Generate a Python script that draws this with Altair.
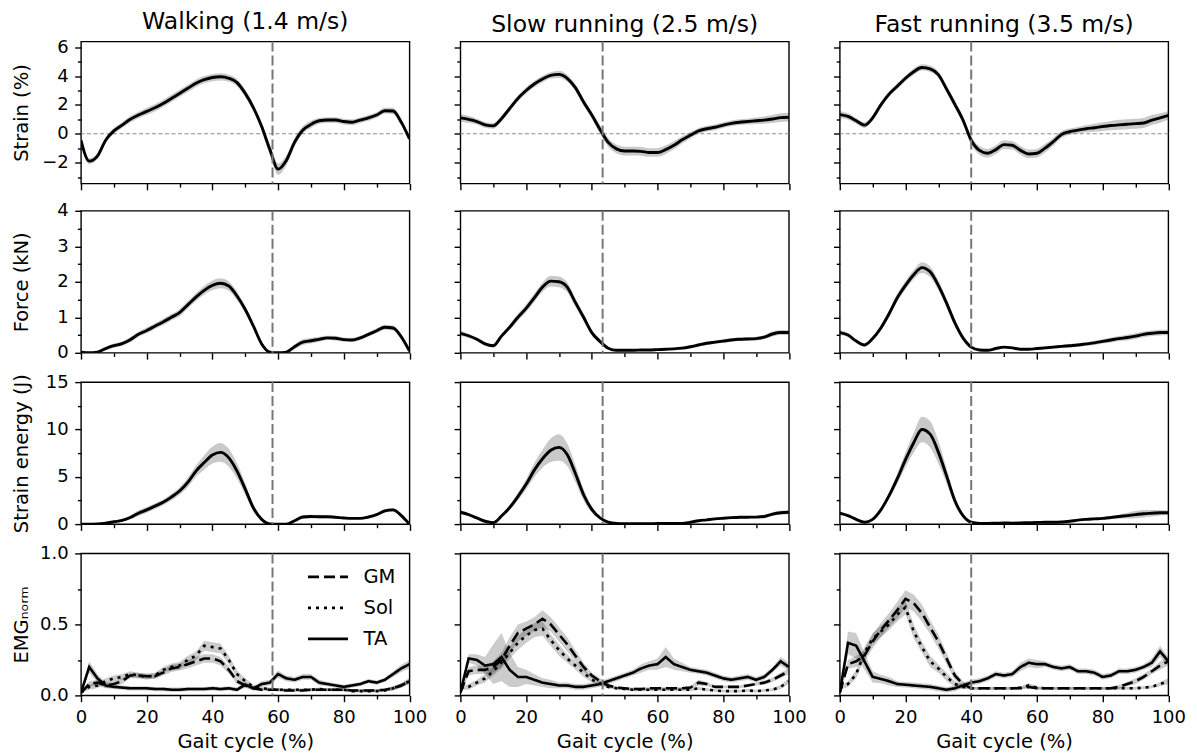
import altair as alt
import pandas as pd

FONT = "DejaVu Sans"

X = [0, 2.5, 5, 7.5, 10, 12.5, 15, 17.5, 20, 22.5, 25, 27.5, 30, 32.5, 35, 37.5, 40,
     42.5, 45, 47.5, 50, 52.5, 55, 57.5, 60, 62.5, 65, 67.5, 70, 72.5, 75, 77.5, 80,
     82.5, 85, 87.5, 90, 92.5, 95, 97.5, 100]

COL_TITLES = ["Walking (1.4 m/s)", "Slow running (2.5 m/s)", "Fast running (3.5 m/s)"]
TOE_OFF = [58.3, 43.3, 40.0]
MUSCLES = ["GM", "Sol", "TA"]

# ---- Strain (%) ----
STRAIN_WALK = [-0.45, -1.9, -1.55, -0.45, 0.2, 0.6, 1.0, 1.3, 1.55, 1.8, 2.1, 2.45, 2.8, 3.15,
               3.5, 3.75, 3.9, 3.95, 3.85, 3.55, 2.8, 1.8, 0.5, -1.1, -2.45, -1.85, -0.6, 0.25,
               0.65, 0.9, 0.95, 0.95, 0.85, 0.8, 0.95, 1.1, 1.3, 1.6, 1.58, 0.8, -0.35]
STRAIN_WALK_SD = [0.15, 0.2, 0.2, 0.2, 0.2, 0.2, 0.22, 0.22, 0.25, 0.25, 0.25, 0.25, 0.25, 0.25,
                  0.25, 0.25, 0.25, 0.25, 0.25, 0.25, 0.25, 0.25, 0.3, 0.35, 0.4, 0.35, 0.3, 0.25,
                  0.25, 0.2, 0.2, 0.2, 0.2, 0.2, 0.2, 0.2, 0.2, 0.2, 0.22, 0.2, 0.15]
STRAIN_SLOW = [1.1, 1.0, 0.85, 0.62, 0.55, 1.05, 1.75, 2.45, 3.0, 3.45, 3.8, 4.05, 4.12, 3.85,
               3.2, 2.2, 1.3, 0.3, -0.6, -1.05, -1.2, -1.2, -1.22, -1.3, -1.3, -1.1, -0.8, -0.42,
               -0.1, 0.2, 0.35, 0.45, 0.6, 0.72, 0.8, 0.85, 0.9, 0.95, 1.02, 1.12, 1.15]
STRAIN_SLOW_SD = [0.25, 0.25, 0.2, 0.2, 0.2, 0.2, 0.2, 0.2, 0.22, 0.22, 0.22, 0.22, 0.25, 0.25,
                  0.25, 0.25, 0.25, 0.3, 0.3, 0.3, 0.3, 0.3, 0.3, 0.3, 0.3, 0.3, 0.28, 0.25, 0.22,
                  0.2, 0.2, 0.2, 0.2, 0.2, 0.2, 0.2, 0.22, 0.25, 0.28, 0.3, 0.3]
STRAIN_FAST = [1.33, 1.2, 0.9, 0.6, 1.1, 2.0, 2.75, 3.3, 3.85, 4.3, 4.6, 4.5, 4.1, 3.1, 2.05,
               0.95, -0.45, -1.15, -1.35, -1.1, -0.75, -0.8, -1.15, -1.4, -1.35, -1.0, -0.55,
               -0.05, 0.15, 0.25, 0.35, 0.42, 0.5, 0.57, 0.62, 0.66, 0.7, 0.75, 0.95, 1.1, 1.27]
STRAIN_FAST_SD = [0.25, 0.22, 0.2, 0.2, 0.2, 0.2, 0.2, 0.2, 0.2, 0.22, 0.22, 0.22, 0.22, 0.25,
                  0.25, 0.25, 0.3, 0.3, 0.3, 0.3, 0.3, 0.3, 0.3, 0.3, 0.3, 0.3, 0.28, 0.25, 0.22,
                  0.22, 0.25, 0.28, 0.3, 0.32, 0.35, 0.35, 0.35, 0.35, 0.35, 0.33, 0.3]

# ---- Force (kN) ----
FORCE_WALK = [0.02, 0.0, 0.02, 0.12, 0.2, 0.26, 0.37, 0.52, 0.63, 0.75, 0.87, 1.0, 1.13, 1.35,
              1.57, 1.76, 1.9, 1.96, 1.88, 1.6, 1.22, 0.75, 0.25, 0.02, 0.0, 0.02, 0.17, 0.3,
              0.34, 0.38, 0.42, 0.41, 0.37, 0.36, 0.42, 0.52, 0.62, 0.72, 0.7, 0.45, 0.05]
FORCE_WALK_SD = [0.03, 0.03, 0.03, 0.05, 0.06, 0.06, 0.07, 0.07, 0.08, 0.08, 0.09, 0.09, 0.1,
                 0.1, 0.11, 0.12, 0.14, 0.14, 0.13, 0.12, 0.1, 0.08, 0.06, 0.03, 0.03, 0.04, 0.07,
                 0.08, 0.08, 0.07, 0.06, 0.06, 0.06, 0.06, 0.06, 0.06, 0.07, 0.07, 0.07, 0.06, 0.04]
FORCE_SLOW = [0.55, 0.48, 0.38, 0.25, 0.2, 0.47, 0.72, 1.0, 1.25, 1.55, 1.85, 2.02, 2.0, 1.85,
              1.42, 1.0, 0.57, 0.32, 0.13, 0.07, 0.07, 0.07, 0.08, 0.08, 0.09, 0.1, 0.11, 0.13,
              0.17, 0.22, 0.27, 0.3, 0.33, 0.36, 0.38, 0.39, 0.4, 0.44, 0.53, 0.57, 0.57]
FORCE_SLOW_SD = [0.07, 0.06, 0.05, 0.05, 0.05, 0.06, 0.08, 0.1, 0.11, 0.12, 0.13, 0.15, 0.15,
                 0.14, 0.12, 0.1, 0.08, 0.06, 0.04, 0.03, 0.03, 0.03, 0.03, 0.03, 0.03, 0.03, 0.03,
                 0.04, 0.05, 0.05, 0.05, 0.05, 0.05, 0.05, 0.05, 0.05, 0.05, 0.06, 0.07, 0.07, 0.07]
FORCE_FAST = [0.57, 0.5, 0.33, 0.22, 0.4, 0.7, 1.1, 1.55, 1.9, 2.2, 2.4, 2.28, 1.9, 1.4, 0.85,
              0.42, 0.16, 0.08, 0.07, 0.12, 0.16, 0.14, 0.1, 0.1, 0.12, 0.14, 0.16, 0.18, 0.2,
              0.22, 0.25, 0.28, 0.32, 0.36, 0.4, 0.43, 0.47, 0.52, 0.55, 0.57, 0.57]
FORCE_FAST_SD = [0.07, 0.06, 0.05, 0.05, 0.06, 0.08, 0.1, 0.11, 0.12, 0.13, 0.15, 0.15, 0.14,
                 0.12, 0.1, 0.07, 0.04, 0.03, 0.03, 0.03, 0.03, 0.03, 0.03, 0.03, 0.03, 0.04, 0.04,
                 0.04, 0.05, 0.05, 0.05, 0.06, 0.06, 0.07, 0.07, 0.08, 0.08, 0.08, 0.08, 0.08, 0.07]

# ---- Strain energy (J) ----
ENERGY_WALK = [0.0, 0.0, 0.02, 0.1, 0.25, 0.4, 0.7, 1.15, 1.5, 1.9, 2.3, 2.85, 3.5, 4.4, 5.6,
               6.5, 7.3, 7.58, 7.0, 5.6, 3.7, 1.7, 0.5, 0.02, 0.0, 0.0, 0.35, 0.75, 0.8, 0.78,
               0.78, 0.72, 0.65, 0.6, 0.6, 0.75, 1.0, 1.4, 1.5, 0.9, 0.0]
ENERGY_WALK_SD = [0.05, 0.05, 0.05, 0.1, 0.12, 0.15, 0.2, 0.3, 0.3, 0.3, 0.3, 0.35, 0.4, 0.5,
                  0.6, 0.75, 0.9, 1.0, 0.95, 0.8, 0.6, 0.35, 0.15, 0.05, 0.05, 0.05, 0.15, 0.2,
                  0.2, 0.2, 0.15, 0.12, 0.12, 0.1, 0.1, 0.12, 0.15, 0.2, 0.2, 0.15, 0.05]
ENERGY_SLOW = [1.25, 1.0, 0.65, 0.3, 0.15, 0.85, 1.75, 2.9, 4.2, 5.7, 6.9, 7.8, 8.1, 7.35, 5.35,
               3.1, 1.55, 0.65, 0.2, 0.07, 0.05, 0.05, 0.05, 0.05, 0.06, 0.06, 0.06, 0.08, 0.2,
               0.35, 0.45, 0.55, 0.62, 0.68, 0.72, 0.73, 0.74, 0.8, 1.05, 1.2, 1.25]
ENERGY_SLOW_SD = [0.2, 0.15, 0.12, 0.1, 0.1, 0.15, 0.25, 0.4, 0.55, 0.75, 0.95, 1.25, 1.4, 1.2,
                  0.9, 0.6, 0.35, 0.15, 0.08, 0.05, 0.05, 0.05, 0.05, 0.05, 0.05, 0.05, 0.05, 0.05,
                  0.08, 0.1, 0.1, 0.12, 0.12, 0.12, 0.12, 0.12, 0.12, 0.15, 0.2, 0.22, 0.22]
ENERGY_FAST = [1.17, 0.9, 0.5, 0.2, 0.5, 1.5, 3.0, 4.8, 6.8, 8.6, 10.0, 9.5, 7.6, 5.1, 2.5, 0.9,
               0.2, 0.08, 0.08, 0.1, 0.12, 0.1, 0.12, 0.15, 0.17, 0.2, 0.2, 0.22, 0.3, 0.42, 0.5,
               0.55, 0.6, 0.7, 0.8, 0.9, 1.0, 1.1, 1.15, 1.2, 1.2]
ENERGY_FAST_SD = [0.2, 0.15, 0.12, 0.1, 0.12, 0.2, 0.35, 0.55, 0.8, 1.05, 1.35, 1.4, 1.2, 0.8,
                  0.45, 0.2, 0.1, 0.05, 0.05, 0.05, 0.05, 0.05, 0.05, 0.05, 0.05, 0.05, 0.05, 0.08,
                  0.1, 0.1, 0.1, 0.12, 0.12, 0.15, 0.2, 0.3, 0.38, 0.4, 0.35, 0.3, 0.25]

# ---- EMG norm : walking ----
EMG_WALK_GM = [0.02, 0.08, 0.09, 0.07, 0.08, 0.1, 0.14, 0.14, 0.135, 0.135, 0.16, 0.19, 0.2,
               0.22, 0.24, 0.26, 0.26, 0.24, 0.18, 0.1, 0.07, 0.05, 0.04, 0.04, 0.04, 0.035,
               0.035, 0.035, 0.04, 0.04, 0.04, 0.04, 0.04, 0.035, 0.035, 0.035, 0.035, 0.04,
               0.05, 0.07, 0.1]
EMG_WALK_GM_SD = [0.01, 0.02, 0.02, 0.02, 0.02, 0.02, 0.02, 0.02, 0.02, 0.02, 0.02, 0.025,
                  0.025, 0.03, 0.03, 0.03, 0.03, 0.03, 0.025, 0.02, 0.015, 0.015, 0.01, 0.01,
                  0.01, 0.01, 0.01, 0.01, 0.01, 0.01, 0.01, 0.01, 0.01, 0.01, 0.01, 0.01, 0.01,
                  0.01, 0.015, 0.015, 0.02]
EMG_WALK_SOL = [0.02, 0.06, 0.07, 0.1, 0.12, 0.13, 0.15, 0.14, 0.13, 0.14, 0.18, 0.2, 0.21,
                0.25, 0.28, 0.35, 0.34, 0.33, 0.25, 0.15, 0.1, 0.06, 0.05, 0.045, 0.04, 0.04,
                0.04, 0.04, 0.04, 0.045, 0.04, 0.04, 0.04, 0.03, 0.03, 0.03, 0.03, 0.035, 0.05,
                0.07, 0.1]
EMG_WALK_SOL_SD = [0.01, 0.02, 0.02, 0.02, 0.02, 0.02, 0.02, 0.02, 0.02, 0.02, 0.02, 0.025,
                   0.025, 0.03, 0.03, 0.035, 0.035, 0.035, 0.03, 0.025, 0.02, 0.015, 0.01, 0.01,
                   0.01, 0.01, 0.01, 0.01, 0.01, 0.01, 0.01, 0.01, 0.01, 0.01, 0.01, 0.01, 0.01,
                   0.01, 0.015, 0.015, 0.02]
EMG_WALK_TA = [0.02, 0.2, 0.12, 0.07, 0.06, 0.055, 0.05, 0.05, 0.05, 0.045, 0.045, 0.04, 0.04,
               0.045, 0.045, 0.045, 0.05, 0.045, 0.05, 0.04, 0.075, 0.05, 0.08, 0.09, 0.15, 0.12,
               0.11, 0.13, 0.13, 0.09, 0.08, 0.07, 0.06, 0.07, 0.08, 0.1, 0.09, 0.11, 0.15, 0.19,
               0.22]
EMG_WALK_TA_SD = [0.01, 0.04, 0.03, 0.02, 0.015, 0.015, 0.015, 0.015, 0.015, 0.015, 0.015,
                  0.015, 0.015, 0.015, 0.015, 0.015, 0.015, 0.015, 0.015, 0.015, 0.02, 0.015,
                  0.02, 0.02, 0.025, 0.02, 0.02, 0.02, 0.02, 0.02, 0.015, 0.015, 0.015, 0.015,
                  0.015, 0.015, 0.015, 0.015, 0.02, 0.025, 0.03]

# ---- EMG norm : slow running ----
EMG_SLOW_GM = [0.02, 0.17, 0.18, 0.18, 0.2, 0.25, 0.35, 0.44, 0.47, 0.5, 0.54, 0.5, 0.43, 0.36,
               0.28, 0.2, 0.14, 0.1, 0.07, 0.055, 0.05, 0.045, 0.045, 0.05, 0.05, 0.05, 0.05,
               0.05, 0.055, 0.09, 0.08, 0.06, 0.06, 0.06, 0.06, 0.07, 0.08, 0.09, 0.11, 0.14, 0.17]
EMG_SLOW_GM_SD = [0.01, 0.03, 0.03, 0.03, 0.04, 0.05, 0.06, 0.06, 0.05, 0.05, 0.06, 0.05, 0.05,
                  0.05, 0.04, 0.03, 0.02, 0.02, 0.015, 0.01, 0.01, 0.01, 0.01, 0.01, 0.01, 0.01,
                  0.01, 0.01, 0.01, 0.02, 0.015, 0.01, 0.01, 0.01, 0.01, 0.01, 0.01, 0.015, 0.015,
                  0.02, 0.02]
EMG_SLOW_SOL = [0.05, 0.06, 0.09, 0.12, 0.17, 0.23, 0.3, 0.37, 0.42, 0.46, 0.47, 0.39, 0.32,
                0.26, 0.21, 0.16, 0.11, 0.085, 0.06, 0.05, 0.045, 0.04, 0.04, 0.04, 0.04, 0.04,
                0.04, 0.04, 0.04, 0.05, 0.04, 0.035, 0.03, 0.03, 0.03, 0.035, 0.03, 0.035, 0.04,
                0.06, 0.1]
EMG_SLOW_SOL_SD = [0.01, 0.02, 0.02, 0.03, 0.03, 0.04, 0.04, 0.05, 0.05, 0.05, 0.05, 0.04, 0.04,
                   0.03, 0.03, 0.03, 0.02, 0.015, 0.01, 0.01, 0.01, 0.01, 0.01, 0.01, 0.01, 0.01,
                   0.01, 0.01, 0.01, 0.01, 0.01, 0.01, 0.01, 0.01, 0.01, 0.01, 0.01, 0.01, 0.01,
                   0.015, 0.02]
EMG_SLOW_TA = [0.02, 0.26, 0.25, 0.21, 0.22, 0.27, 0.18, 0.13, 0.13, 0.11, 0.09, 0.08, 0.07,
               0.07, 0.06, 0.06, 0.07, 0.08, 0.1, 0.12, 0.14, 0.16, 0.19, 0.21, 0.22, 0.27, 0.22,
               0.2, 0.18, 0.17, 0.16, 0.14, 0.12, 0.11, 0.12, 0.13, 0.11, 0.13, 0.18, 0.24, 0.2]
EMG_SLOW_TA_SD = [0.01, 0.03, 0.04, 0.06, 0.14, 0.17, 0.12, 0.07, 0.05, 0.04, 0.03, 0.03, 0.02,
                  0.02, 0.02, 0.02, 0.02, 0.02, 0.02, 0.02, 0.02, 0.02, 0.03, 0.03, 0.04, 0.07,
                  0.04, 0.03, 0.02, 0.02, 0.02, 0.02, 0.02, 0.02, 0.02, 0.02, 0.02, 0.02, 0.02,
                  0.03, 0.03]

# ---- EMG norm : fast running ----
EMG_FAST_GM = [0.02, 0.22, 0.24, 0.28, 0.38, 0.46, 0.53, 0.6, 0.68, 0.65, 0.58, 0.48, 0.38, 0.26,
               0.14, 0.08, 0.05, 0.05, 0.05, 0.05, 0.05, 0.05, 0.05, 0.06, 0.05, 0.05, 0.05, 0.05,
               0.05, 0.05, 0.05, 0.05, 0.05, 0.05, 0.06, 0.08, 0.1, 0.13, 0.17, 0.21, 0.24]
EMG_FAST_GM_SD = [0.01, 0.03, 0.04, 0.04, 0.05, 0.05, 0.05, 0.06, 0.06, 0.06, 0.06, 0.05, 0.05,
                  0.04, 0.03, 0.02, 0.01, 0.01, 0.01, 0.01, 0.01, 0.01, 0.01, 0.01, 0.01, 0.01,
                  0.01, 0.01, 0.01, 0.01, 0.01, 0.01, 0.01, 0.01, 0.015, 0.015, 0.02, 0.02, 0.02,
                  0.03, 0.03]
EMG_FAST_SOL = [0.05, 0.08, 0.15, 0.3, 0.4, 0.45, 0.5, 0.57, 0.62, 0.45, 0.34, 0.24, 0.19, 0.13,
                0.08, 0.06, 0.05, 0.05, 0.05, 0.05, 0.05, 0.05, 0.055, 0.07, 0.055, 0.05, 0.05,
                0.05, 0.05, 0.05, 0.05, 0.05, 0.05, 0.05, 0.05, 0.05, 0.05, 0.055, 0.06, 0.08, 0.1]
EMG_FAST_SOL_SD = [0.01, 0.02, 0.03, 0.04, 0.04, 0.04, 0.04, 0.05, 0.05, 0.05, 0.04, 0.04, 0.03,
                   0.03, 0.02, 0.015, 0.01, 0.01, 0.01, 0.01, 0.01, 0.01, 0.01, 0.015, 0.01, 0.01,
                   0.01, 0.01, 0.01, 0.01, 0.01, 0.01, 0.01, 0.01, 0.01, 0.01, 0.01, 0.01, 0.01,
                   0.015, 0.02]
EMG_FAST_TA = [0.02, 0.37, 0.35, 0.24, 0.13, 0.115, 0.1, 0.08, 0.075, 0.07, 0.065, 0.06, 0.05,
               0.04, 0.05, 0.07, 0.09, 0.1, 0.12, 0.15, 0.14, 0.15, 0.2, 0.23, 0.22, 0.22, 0.2,
               0.19, 0.2, 0.17, 0.17, 0.16, 0.13, 0.14, 0.17, 0.17, 0.18, 0.2, 0.23, 0.31, 0.24]
EMG_FAST_TA_SD = [0.01, 0.08, 0.09, 0.06, 0.04, 0.03, 0.03, 0.02, 0.02, 0.02, 0.02, 0.02, 0.02,
                  0.02, 0.02, 0.02, 0.02, 0.02, 0.02, 0.02, 0.02, 0.02, 0.03, 0.03, 0.03, 0.02,
                  0.02, 0.02, 0.02, 0.02, 0.02, 0.02, 0.02, 0.02, 0.02, 0.02, 0.02, 0.02, 0.03,
                  0.04, 0.03]

ROWS = [
    dict(title="Strain (%)", domain=[-3.45, 6.4], ticks=[-3, -2, -1, 0, 1, 2, 3, 4, 5, 6],
         major=2, fmt=".0f",
         mean=[STRAIN_WALK, STRAIN_SLOW, STRAIN_FAST],
         sd=[STRAIN_WALK_SD, STRAIN_SLOW_SD, STRAIN_FAST_SD]),
    dict(title="Force (kN)", domain=[0, 4], ticks=[0, 0.5, 1, 1.5, 2, 2.5, 3, 3.5, 4],
         major=1, fmt=".0f",
         mean=[FORCE_WALK, FORCE_SLOW, FORCE_FAST],
         sd=[FORCE_WALK_SD, FORCE_SLOW_SD, FORCE_FAST_SD]),
    dict(title="Strain energy (J)", domain=[0, 15], ticks=[0, 2.5, 5, 7.5, 10, 12.5, 15],
         major=5, fmt=".0f",
         mean=[ENERGY_WALK, ENERGY_SLOW, ENERGY_FAST],
         sd=[ENERGY_WALK_SD, ENERGY_SLOW_SD, ENERGY_FAST_SD]),
    dict(title="EMG\u2099\u2092\u1d63\u2098", domain=[0, 1], ticks=[0, 0.25, 0.5, 0.75, 1.0],
         major=0.5, fmt=".1f",
         mean=[[EMG_WALK_GM, EMG_WALK_SOL, EMG_WALK_TA],
               [EMG_SLOW_GM, EMG_SLOW_SOL, EMG_SLOW_TA],
               [EMG_FAST_GM, EMG_FAST_SOL, EMG_FAST_TA]],
         sd=[[EMG_WALK_GM_SD, EMG_WALK_SOL_SD, EMG_WALK_TA_SD],
             [EMG_SLOW_GM_SD, EMG_SLOW_SOL_SD, EMG_SLOW_TA_SD],
             [EMG_FAST_GM_SD, EMG_FAST_SOL_SD, EMG_FAST_TA_SD]]),
]

W, H = 328.5, 142
MAJ, MIN = 6.3, 3.6
LINE_W = 2.9


def x_enc(field, bottom):
    kw = dict(
        values=[0, 10, 20, 30, 40, 50, 60, 70, 80, 90, 100],
        format=".0f",
        labelExpr="datum.value % 20 == 0 ? datum.label : ''",
        tickSize={"condition": {"test": "datum.value % 20 == 0", "value": MAJ}, "value": MIN},
        labelFlush=False,
        labelOverlap=False,
        minExtent=0,
    )
    if bottom:
        kw.update(title="Gait cycle (%)", titlePadding=6.5)
    else:
        kw.update(labels=False, title=None)
    return alt.X(field, type="quantitative",
                 scale=alt.Scale(domain=[0, 100], nice=False, zero=False),
                 axis=alt.Axis(**kw))


def y_enc(field, spec, first):
    m = spec["major"]
    kw = dict(
        values=spec["ticks"],
        format=spec["fmt"],
        labelExpr=f"datum.value % {m} == 0 ? datum.label : ''",
        tickSize={"condition": {"test": f"datum.value % {m} == 0", "value": MAJ}, "value": MIN},
        labelFlush=False,
        labelOverlap=False,
        minExtent=0,
    )
    if first:
        kw.update(title=spec["title"], titleX=-50)
    else:
        kw.update(labels=False, title=None)
    return alt.Y(field, type="quantitative",
                 scale=alt.Scale(domain=spec["domain"], nice=False, zero=False),
                 axis=alt.Axis(**kw))


def panel(r, c):
    spec = ROWS[r]
    bottom = r == 3
    first = c == 0
    layers = []
    if r == 0:
        zdf = pd.DataFrame({"z": [0.0]})
        layers.append(alt.Chart(zdf).mark_rule(color="#8c8c8c", strokeWidth=1.1,
                                               strokeDash=[4, 2.5]).encode(
            y=y_enc("z", spec, first)))
    if r < 3:
        mean = spec["mean"][c]
        sd = spec["sd"][c]
        df = pd.DataFrame({"x": X, "v": mean,
                           "lo": [a - b for a, b in zip(mean, sd)],
                           "hi": [a + b for a, b in zip(mean, sd)]})
        base = alt.Chart(df)
        layers.append(base.mark_area(color="black", opacity=0.21, clip=True,
                                     interpolate="monotone").encode(
            x=x_enc("x", bottom), y=y_enc("lo", spec, first), y2="hi"))
        layers.append(base.mark_line(color="black", strokeWidth=LINE_W, clip=True,
                                     interpolate="monotone").encode(
            x=x_enc("x", bottom), y=y_enc("v", spec, first)))
    else:
        recs = []
        for mname, mean, sd in zip(MUSCLES, spec["mean"][c], spec["sd"][c]):
            for xi, v, s in zip(X, mean, sd):
                recs.append({"x": xi, "v": v, "lo": v - s, "hi": v + s, "m": mname})
        df = pd.DataFrame(recs)
        base = alt.Chart(df)
        layers.append(base.mark_area(color="black", opacity=0.2, clip=True).encode(
            x=x_enc("x", bottom), y=y_enc("lo", spec, first), y2="hi", detail="m:N"))
        if first:
            leg = alt.Legend(title=None, orient="none", legendX=225.5, legendY=2,
                             symbolType="stroke", symbolSize=1600,
                             symbolStrokeWidth=2.6, symbolStrokeColor="black",
                             labelFontSize=19.5, labelFont=FONT, labelColor="black",
                             labelOffset=14, rowPadding=0)
        else:
            leg = None
        layers.append(base.mark_line(color="black", strokeWidth=2.6, clip=True).encode(
            x=x_enc("x", bottom), y=y_enc("v", spec, first),
            strokeDash=alt.StrokeDash("m:N", scale=alt.Scale(
                domain=MUSCLES, range=[[11, 5], [3, 5], [1, 0]]), legend=leg)))
    tdf = pd.DataFrame({"t": [TOE_OFF[c]]})
    layers.append(alt.Chart(tdf).mark_rule(color="#777777", strokeWidth=2,
                                           strokeDash=[10, 4]).encode(
        x=x_enc("t", bottom)))
    ch = alt.layer(*layers).properties(width=W, height=H)
    if r == 0:
        ch = ch.properties(title=alt.TitleParams(COL_TITLES[c]))
    return ch


panels = [panel(r, c) for r in range(4) for c in range(3)]

chart = alt.concat(*panels, columns=3, spacing={"row": 9.3, "column": 24.4}, align="each")
chart = chart.resolve_scale(strokeDash="independent", x="independent", y="independent")
chart = chart.resolve_legend(strokeDash="independent")
chart = chart.properties(padding={"left": 2, "top": 1.5, "right": 0, "bottom": 0})
chart = chart.configure(font=FONT).configure_view(stroke="black", strokeWidth=1.4)
chart = chart.configure_axis(domain=False, grid=False, tickColor="black", tickWidth=1.4,
                             labelColor="black", labelFont=FONT, labelFontSize=18,
                             labelPadding=6.5, titleFont=FONT, titleFontSize=19.5,
                             titleFontWeight="normal", titleColor="black", minExtent=0)
chart = chart.configure_title(font=FONT, fontSize=23.5, fontWeight="normal", color="black",
                              offset=4.5, anchor="middle")

chart.save("out.html", embed_options={"renderer": "svg", "actions": False})
